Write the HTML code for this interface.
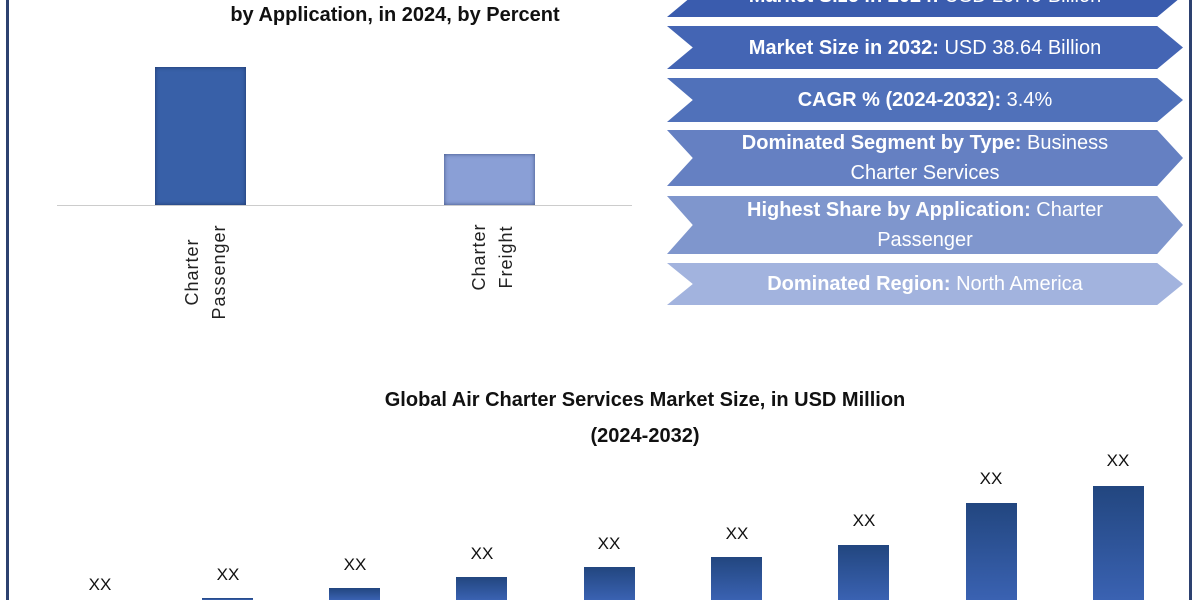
<!DOCTYPE html>
<html><head><meta charset="utf-8"><style>
body{margin:0;width:1200px;height:600px;background:#fff;position:relative;overflow:hidden;font-family:"Liberation Sans",sans-serif}
.a{position:absolute;left:667px;width:516px;color:#fff;font-size:20px;text-align:center;display:flex;align-items:center;justify-content:center;line-height:30px;clip-path:polygon(0 0,95% 0,100% 50%,95% 100%,0 100%,5% 50%)}
.a b{font-weight:bold}
.t{position:absolute;font-weight:bold;font-size:20px;color:#111;text-align:center}
.bar{position:absolute;width:51px;bottom:0;background:linear-gradient(#22467f,#3a62b2)}
.xx{position:absolute;width:60px;text-align:center;font-size:17px;color:#111}
.rl{position:absolute;font-size:18px;color:#222;transform:rotate(-90deg);transform-origin:center;text-align:center;line-height:27px;width:130px;letter-spacing:1px}
</style></head><body>
<div style="position:absolute;left:6px;top:0;width:3px;height:600px;background:#2d4170"></div>
<div style="position:absolute;left:1189px;top:0;width:3px;height:600px;background:#2d4170"></div>
<div class="t" style="left:150px;width:490px;top:4px">by Application, in 2024, by Percent</div>
<div style="position:absolute;left:155px;top:67px;width:91px;height:138px;background:#3860a8;box-shadow:inset 0 0 4px #1d3566"></div>
<div style="position:absolute;left:444px;top:154px;width:91px;height:51px;background:#8a9fd6;box-shadow:inset 0 0 4px #3c4f80"></div>
<div style="position:absolute;left:57px;top:205px;width:575px;height:1px;background:#ccc"></div>
<div class="rl" style="left:141px;top:245px">Charter<br>Passenger</div>
<div class="rl" style="left:428px;top:230px">Charter<br>Freight</div>
<div class="a" style="top:-26px;height:43px;background:#3a5cae"><span><b>Market Size in 2024:</b> USD 29.49 Billion</span></div>
<div class="a" style="top:26px;height:43px;background:#4465b4"><span><b>Market Size in 2032:</b> USD 38.64 Billion</span></div>
<div class="a" style="top:78px;height:44px;background:#5071ba"><span><b>CAGR % (2024-2032):</b> 3.4%</span></div>
<div class="a" style="top:130px;height:56px;background:#6580c2"><span><b>Dominated Segment by Type:</b> Business<br>Charter Services</span></div>
<div class="a" style="top:196px;height:58px;background:#7f96cd"><span><b>Highest Share by Application:</b> Charter<br>Passenger</span></div>
<div class="a" style="top:263px;height:42px;background:#a2b3de"><span><b>Dominated Region:</b> North America</span></div>
<div class="t" style="left:300px;width:690px;top:382px;line-height:36px">Global Air Charter Services Market Size, in USD Million<br>(2024-2032)</div>
<div class="xx" style="left:70px;top:575px">XX</div>
<div class="bar" style="left:202px;top:598px"></div><div class="xx" style="left:198px;top:565px">XX</div>
<div class="bar" style="left:329px;top:588px"></div><div class="xx" style="left:325px;top:555px">XX</div>
<div class="bar" style="left:456px;top:577px"></div><div class="xx" style="left:452px;top:544px">XX</div>
<div class="bar" style="left:584px;top:567px"></div><div class="xx" style="left:579px;top:534px">XX</div>
<div class="bar" style="left:711px;top:557px"></div><div class="xx" style="left:707px;top:524px">XX</div>
<div class="bar" style="left:838px;top:545px"></div><div class="xx" style="left:834px;top:511px">XX</div>
<div class="bar" style="left:966px;top:503px"></div><div class="xx" style="left:961px;top:469px">XX</div>
<div class="bar" style="left:1093px;top:486px"></div><div class="xx" style="left:1088px;top:451px">XX</div>
</body></html>
